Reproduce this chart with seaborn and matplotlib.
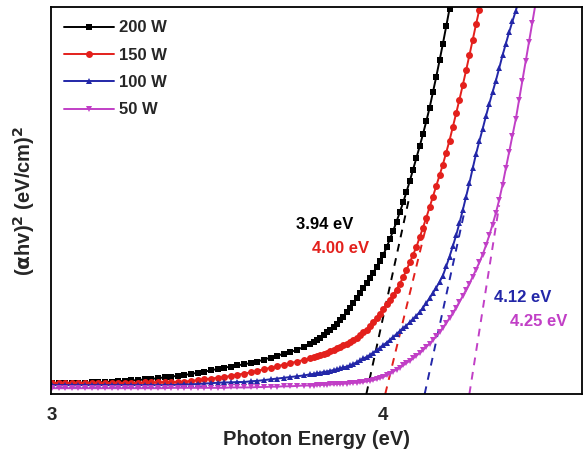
import matplotlib
matplotlib.use("Agg")
import matplotlib.pyplot as plt
import pandas as pd
import seaborn as sns
from matplotlib.ticker import FixedLocator, NullFormatter, NullLocator

# photon energy (eV): coarse steps on the flat tail, fine steps across the edge
energy = [
    3.00, 3.02, 3.04, 3.06, 3.08, 3.10, 3.12, 3.14, 3.16, 3.18,
    3.20, 3.22, 3.24, 3.26, 3.28, 3.30, 3.32, 3.34, 3.36, 3.38,
    3.40, 3.42, 3.44, 3.46, 3.48, 3.50, 3.52, 3.54, 3.56, 3.58,
    3.60, 3.62, 3.64, 3.66, 3.68, 3.70, 3.72, 3.74, 3.76, 3.78,
    3.79, 3.80, 3.81, 3.82, 3.83, 3.84, 3.85, 3.86, 3.87, 3.88,
    3.89, 3.90, 3.91, 3.92, 3.93, 3.94, 3.95, 3.96, 3.97, 3.98,
    3.99, 4.00, 4.01, 4.02, 4.03, 4.04, 4.05, 4.06, 4.07, 4.08,
    4.09, 4.10, 4.11, 4.12, 4.13, 4.14, 4.15, 4.16, 4.17, 4.18,
    4.19, 4.20, 4.21, 4.22, 4.23, 4.24, 4.25, 4.26, 4.27, 4.28,
    4.29, 4.30, 4.31, 4.32, 4.33, 4.34, 4.35, 4.36, 4.37, 4.38,
    4.39, 4.40, 4.41, 4.42, 4.43, 4.44, 4.45, 4.46,
]

# (alpha h nu)^2, arbitrary units (axis top = 100)
ahv_200w = [
    2.8, 2.8, 2.8, 2.9, 2.9, 2.9, 3.0, 3.0, 3.1, 3.2,
    3.3, 3.4, 3.5, 3.6, 3.8, 3.9, 4.1, 4.3, 4.5, 4.7,
    4.9, 5.2, 5.5, 5.8, 6.1, 6.5, 6.8, 7.1, 7.4, 7.7,
    8.0, 8.4, 8.9, 9.4, 9.9, 10.4, 10.9, 11.4, 12.2, 13.0,
    13.5, 14.0, 14.6, 15.2, 15.9, 16.6, 17.4, 18.2, 19.1, 20.0,
    21.1, 22.3, 23.5, 24.7, 26.0, 27.3, 28.6, 30.0, 31.4, 32.8,
    34.3, 35.9, 37.9, 40.0, 42.2, 44.5, 47.0, 49.5, 52.2, 55.0,
    58.0, 61.0, 64.0, 67.2, 70.5, 74.0, 78.0, 82.0, 86.2, 90.5,
    95.0, 99.5, 104.0,
]
ahv_150w = [
    2.8, 2.8, 2.8, 2.8, 2.8, 2.8, 2.8, 2.8, 2.8, 2.8,
    2.8, 2.9, 2.9, 2.9, 3.0, 3.0, 3.0, 3.1, 3.1, 3.1,
    3.2, 3.4, 3.6, 3.8, 4.0, 4.2, 4.4, 4.7, 5.0, 5.3,
    5.6, 6.0, 6.4, 6.8, 7.2, 7.6, 8.0, 8.4, 8.8, 9.3,
    9.5, 9.8, 10.1, 10.4, 10.7, 11.0, 11.4, 11.8, 12.2, 12.6,
    13.0, 13.5, 14.0, 14.6, 15.2, 15.9, 16.6, 17.5, 18.5, 19.6,
    20.8, 22.0, 23.2, 24.4, 25.7, 27.0, 28.5, 30.2, 32.0, 34.0,
    36.0, 38.0, 40.5, 43.0, 45.6, 48.3, 51.0, 53.8, 56.5, 59.3,
    62.4, 65.5, 69.0, 72.5, 76.1, 79.8, 83.6, 87.5, 91.5, 95.5,
    99.3, 103.0,
]
ahv_100w = [
    2.3, 2.3, 2.3, 2.3, 2.3, 2.3, 2.3, 2.3, 2.3, 2.3,
    2.3, 2.3, 2.3, 2.3, 2.3, 2.3, 2.3, 2.3, 2.3, 2.4,
    2.5, 2.5, 2.6, 2.7, 2.8, 2.9, 3.0, 3.0, 3.1, 3.1,
    3.3, 3.4, 3.6, 3.8, 4.0, 4.2, 4.4, 4.6, 4.8, 5.1,
    5.2, 5.4, 5.5, 5.7, 5.8, 6.0, 6.2, 6.4, 6.6, 6.9,
    7.1, 7.4, 7.8, 8.2, 8.7, 9.2, 9.6, 10.1, 10.7, 11.3,
    11.9, 12.6, 13.3, 14.0, 14.7, 15.5, 16.2, 17.0, 17.7, 18.5,
    19.3, 20.2, 21.2, 22.3, 23.5, 24.8, 26.1, 27.5, 29.0, 30.6,
    33.0, 35.5, 38.2, 41.0, 44.2, 47.5, 51.0, 54.5, 58.3, 62.0,
    65.3, 68.5, 71.8, 75.0, 78.0, 81.0, 84.2, 87.5, 90.5, 93.5,
    96.3, 99.0, 102.0,
]
ahv_50w = [
    1.5, 1.5, 1.5, 1.5, 1.5, 1.5, 1.5, 1.5, 1.5, 1.5,
    1.5, 1.5, 1.5, 1.5, 1.5, 1.5, 1.5, 1.5, 1.6, 1.6,
    1.6, 1.6, 1.6, 1.6, 1.6, 1.6, 1.6, 1.7, 1.7, 1.7,
    1.7, 1.8, 1.8, 1.9, 1.9, 2.0, 2.0, 2.1, 2.2, 2.2,
    2.2, 2.3, 2.3, 2.4, 2.4, 2.5, 2.5, 2.6, 2.6, 2.7,
    2.7, 2.8, 2.9, 2.9, 3.0, 3.1, 3.3, 3.4, 3.6, 3.8,
    4.1, 4.4, 4.8, 5.3, 5.8, 6.3, 6.8, 7.4, 8.0, 8.6,
    9.2, 9.9, 10.6, 11.4, 12.2, 13.0, 13.9, 14.9, 16.0, 17.1,
    18.3, 19.6, 20.9, 22.3, 23.8, 25.3, 26.9, 28.5, 30.3, 32.1,
    34.0, 36.0, 38.4, 41.0, 43.8, 46.8, 50.2, 54.0, 58.3, 62.5,
    66.8, 71.0, 76.0, 81.0, 86.0, 91.0, 96.0, 101.0,
]

powers = ["200 W", "150 W", "100 W", "50 W"]
series = [ahv_200w, ahv_150w, ahv_100w, ahv_50w]
colors = ["#000000", "#e3201c", "#2327a8", "#c13fc6"]
markers = ["s", "o", "^", "v"]

# linear extrapolations (Tauc fits) and band gaps
gap_labels = ["3.94 eV", "4.00 eV", "4.12 eV", "4.25 eV"]
fit_x0 = [3.949, 4.006, 4.125, 4.26]
fit_x1 = [4.078, 4.138, 4.243, 4.35]
fit_y1 = [50.6, 46.3, 46.3, 48.8]
label_x = [3.823, 3.871, 4.42, 4.47]
label_y = [43.7, 37.7, 25.0, 18.8]

frame = pd.concat(
    [
        pd.DataFrame({"energy": energy[: len(values)], "ahv2": values, "power": name})
        for name, values in zip(powers, series)
    ],
    ignore_index=True,
)

sns.set_style("white")
plt.rcParams["font.family"] = ["Liberation Sans", "DejaVu Sans"]
plt.rcParams["font.weight"] = "bold"

fig = plt.figure(figsize=(5.84, 4.5), dpi=100)
ax = fig.add_axes([0.0873, 0.1244, 0.9093, 0.86])

for x0, x1, y1, color in zip(fit_x0, fit_x1, fit_y1, colors):
    ax.plot([x0, x1], [0, y1], color=color, linestyle=(0, (4, 3.5)), linewidth=1.4, zorder=1)

sns.lineplot(
    data=frame,
    x="energy",
    y="ahv2",
    hue="power",
    style="power",
    hue_order=powers,
    style_order=powers,
    palette=colors,
    markers=markers,
    dashes=False,
    estimator=None,
    linewidth=1.4,
    markersize=5,
    markeredgewidth=0,
    ax=ax,
    zorder=2,
)

for text, x, y, color in zip(gap_labels, label_x, label_y, colors):
    ax.text(x, y, text, color=color, fontsize=12, fontweight="bold", ha="center", va="center")

ax.set_xlim(2.997, 4.6)
ax.set_ylim(0, 100)
ax.xaxis.set_major_locator(FixedLocator([3, 4]))
ax.xaxis.set_minor_locator(FixedLocator([3.5, 4.5]))
ax.xaxis.set_minor_formatter(NullFormatter())
ax.yaxis.set_major_locator(NullLocator())
ax.tick_params(axis="x", which="major", direction="in", length=6, width=1.2, labelsize=13.5, pad=9)
ax.tick_params(axis="x", which="minor", direction="in", length=4, width=1.2)
for label in ax.get_xticklabels():
    label.set_fontweight("bold")
for spine in ax.spines.values():
    spine.set_color("black")
    spine.set_linewidth(1.3)

ax.set_xlabel("Photon Energy (eV)", fontsize=14.5, fontweight="bold", labelpad=5)
ax.set_ylabel("($\\mathbf{\\alpha}$hv)$^2$ (eV/cm)$^2$", fontsize=14.5, fontweight="bold", labelpad=10)

ax.legend(
    loc="upper left",
    bbox_to_anchor=(0.0, 1.0),
    frameon=False,
    handlelength=3.0,
    handletextpad=0.3,
    labelspacing=0.74,
    borderaxespad=0.4,
    prop={"size": 12, "weight": "bold"},
)

fig.savefig("out.png", dpi=100)
